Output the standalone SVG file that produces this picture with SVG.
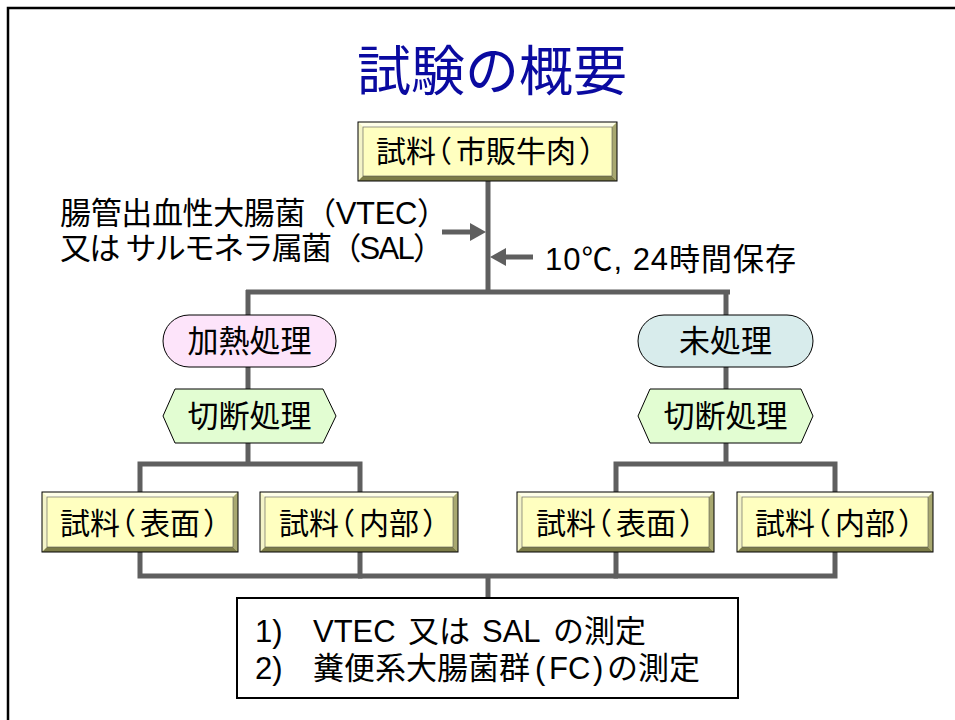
<svg xmlns="http://www.w3.org/2000/svg" width="955" height="720" viewBox="0 0 955 720">
<style>
  .t { font-family: "Liberation Sans", "Noto Sans CJK JP", sans-serif; fill: #000; }
  .c { text-anchor: middle; }
  .ln { stroke: #5f5f5f; stroke-width: 5; fill: none; }
  .bt { fill: #ffffe8; }
  .bl { fill: #f4f4c8; }
  .br { fill: #a8a870; }
  .bb { fill: #7c7c48; }
  .ah { fill: #5f5f5f; }
  .face { fill: #ffffc0; stroke: #555; stroke-width: 0.6; }
  .edge { fill: none; stroke: #000; stroke-width: 1; }
</style>
<rect x="0" y="0" width="955" height="720" fill="#fff"/>
<path d="M8 720 V8 H955" fill="none" stroke="#000" stroke-width="2.5"/>

<text class="t c" x="492" y="91" font-size="54" style="fill:#0a0aa0">試験の概要</text>

<g id="connectors">
  <line class="ln" x1="488" y1="181" x2="488" y2="294"/>
  <line class="ln" x1="246" y1="292" x2="730" y2="292"/>
  <line class="ln" x1="248" y1="290" x2="248" y2="317"/>
  <line class="ln" x1="726" y1="290" x2="726" y2="317"/>
  <line class="ln" x1="248" y1="367" x2="248" y2="390"/>
  <line class="ln" x1="726" y1="367" x2="726" y2="390"/>
  <line class="ln" x1="248" y1="442" x2="248" y2="465"/>
  <line class="ln" x1="726" y1="442" x2="726" y2="465"/>
  <polyline class="ln" points="140,492 140,464 360,464 360,492"/>
  <polyline class="ln" points="616,492 616,464 835,464 835,492"/>
  <polyline class="ln" points="140,552 140,576 360,576 360,552"/>
  <polyline class="ln" points="616,552 616,576 835,576 835,552"/>
  <line class="ln" x1="358" y1="576" x2="618" y2="576"/>
  <line class="ln" x1="488" y1="574" x2="488" y2="598"/>
  <line class="ln" x1="442" y1="232" x2="472" y2="232"/>
  <polygon class="ah" points="470,223 486,232 470,241"/>
  <line class="ln" x1="504" y1="257" x2="533" y2="257"/>
  <polygon class="ah" points="506,248 490,257 506,266"/>
</g>

<text class="t" x="60" y="224" font-size="31" textLength="388" lengthAdjust="spacing">腸管出血性大腸菌（VTEC）</text>
<text class="t" x="60" y="259" font-size="31" textLength="384" lengthAdjust="spacing">又は サルモネラ属菌（SAL）</text>
<text class="t" x="545" y="270" font-size="31" textLength="251" lengthAdjust="spacing">10℃, 24時間保存</text>

<g id="n_sample">
  <rect x="358" y="122" width="259" height="59" fill="#ffffc0"/>
  <polygon class="bt" points="358,122 617,122 612,127 363,127"/>
  <polygon class="bl" points="358,122 363,127 363,176 358,181"/>
  <polygon class="br" points="617,122 617,181 612,176 612,127"/>
  <polygon class="bb" points="358,181 617,181 612,176 363,176"/>
  <rect class="face" x="363" y="127" width="249" height="49"/>
  <rect class="edge" x="358" y="122" width="259" height="59"/>
  <text class="t" x="376 406 422 456 486 516 546 579" y="162" font-size="30">試料（市販牛肉）</text>
</g>

<g id="n_heat">
  <rect x="163" y="315" width="173" height="52" rx="26" fill="#fde4fa" stroke="#000" stroke-width="1"/>
  <text class="t c" x="249.5" y="352" font-size="31">加熱処理</text>
</g>
<g id="n_untreated">
  <rect x="638" y="315" width="175" height="52" rx="26" fill="#d8ecec" stroke="#000" stroke-width="1"/>
  <text class="t c" x="725.5" y="352" font-size="31">未処理</text>
</g>

<g id="n_cut_left">
  <polygon points="163,416 175,389 323,389 336,416 323,443 175,443" fill="#e2fdd2" stroke="#000" stroke-width="1"/>
  <text class="t c" x="249.5" y="427" font-size="31">切断処理</text>
</g>
<g id="n_cut_right">
  <polygon points="638,416 650,389 801,389 813,416 801,443 650,443" fill="#e2fdd2" stroke="#000" stroke-width="1"/>
  <text class="t c" x="725.5" y="427" font-size="31">切断処理</text>
</g>

<g id="n_l_surface">
  <rect x="42" y="492" width="196" height="60" fill="#ffffc0"/>
  <polygon class="bt" points="42,492 238,492 233,497 47,497"/>
  <polygon class="bl" points="42,492 47,497 47,547 42,552"/>
  <polygon class="br" points="238,492 238,552 233,547 233,497"/>
  <polygon class="bb" points="42,552 238,552 233,547 47,547"/>
  <rect class="face" x="47" y="497" width="186" height="50"/>
  <rect class="edge" x="42" y="492" width="196" height="60"/>
  <text class="t" x="60 90 106 140 170 203" y="534" font-size="30">試料（表面）</text>
</g>
<g id="n_l_inner">
  <rect x="260" y="492" width="198" height="60" fill="#ffffc0"/>
  <polygon class="bt" points="260,492 458,492 453,497 265,497"/>
  <polygon class="bl" points="260,492 265,497 265,547 260,552"/>
  <polygon class="br" points="458,492 458,552 453,547 453,497"/>
  <polygon class="bb" points="260,552 458,552 453,547 265,547"/>
  <rect class="face" x="265" y="497" width="188" height="50"/>
  <rect class="edge" x="260" y="492" width="198" height="60"/>
  <text class="t" x="279 309 325 359 389 422" y="534" font-size="30">試料（内部）</text>
</g>
<g id="n_r_surface">
  <rect x="517" y="492" width="197" height="60" fill="#ffffc0"/>
  <polygon class="bt" points="517,492 714,492 709,497 522,497"/>
  <polygon class="bl" points="517,492 522,497 522,547 517,552"/>
  <polygon class="br" points="714,492 714,552 709,547 709,497"/>
  <polygon class="bb" points="517,552 714,552 709,547 522,547"/>
  <rect class="face" x="522" y="497" width="187" height="50"/>
  <rect class="edge" x="517" y="492" width="197" height="60"/>
  <text class="t" x="536 566 582 616 646 679" y="534" font-size="30">試料（表面）</text>
</g>
<g id="n_r_inner">
  <rect x="737" y="492" width="196" height="60" fill="#ffffc0"/>
  <polygon class="bt" points="737,492 933,492 928,497 742,497"/>
  <polygon class="bl" points="737,492 742,497 742,547 737,552"/>
  <polygon class="br" points="933,492 933,552 928,547 928,497"/>
  <polygon class="bb" points="737,552 933,552 928,547 742,547"/>
  <rect class="face" x="742" y="497" width="186" height="50"/>
  <rect class="edge" x="737" y="492" width="196" height="60"/>
  <text class="t" x="755 785 801 835 865 898" y="534" font-size="30">試料（内部）</text>
</g>

<g id="n_measure">
  <rect x="237" y="598" width="501" height="100" fill="#fff" stroke="#000" stroke-width="2"/>
  <text class="t" y="642" font-size="31"><tspan x="255">1)</tspan><tspan x="313">VTEC</tspan><tspan x="408">又は</tspan><tspan x="482">SAL</tspan><tspan x="553">の測定</tspan></text>
  <text class="t" y="679" font-size="31"><tspan x="255">2)</tspan><tspan x="313">糞便系大腸菌群</tspan><tspan x="535">(</tspan><tspan x="549">FC</tspan><tspan x="593">)</tspan><tspan x="607">の測定</tspan></text>
</g>
</svg>
